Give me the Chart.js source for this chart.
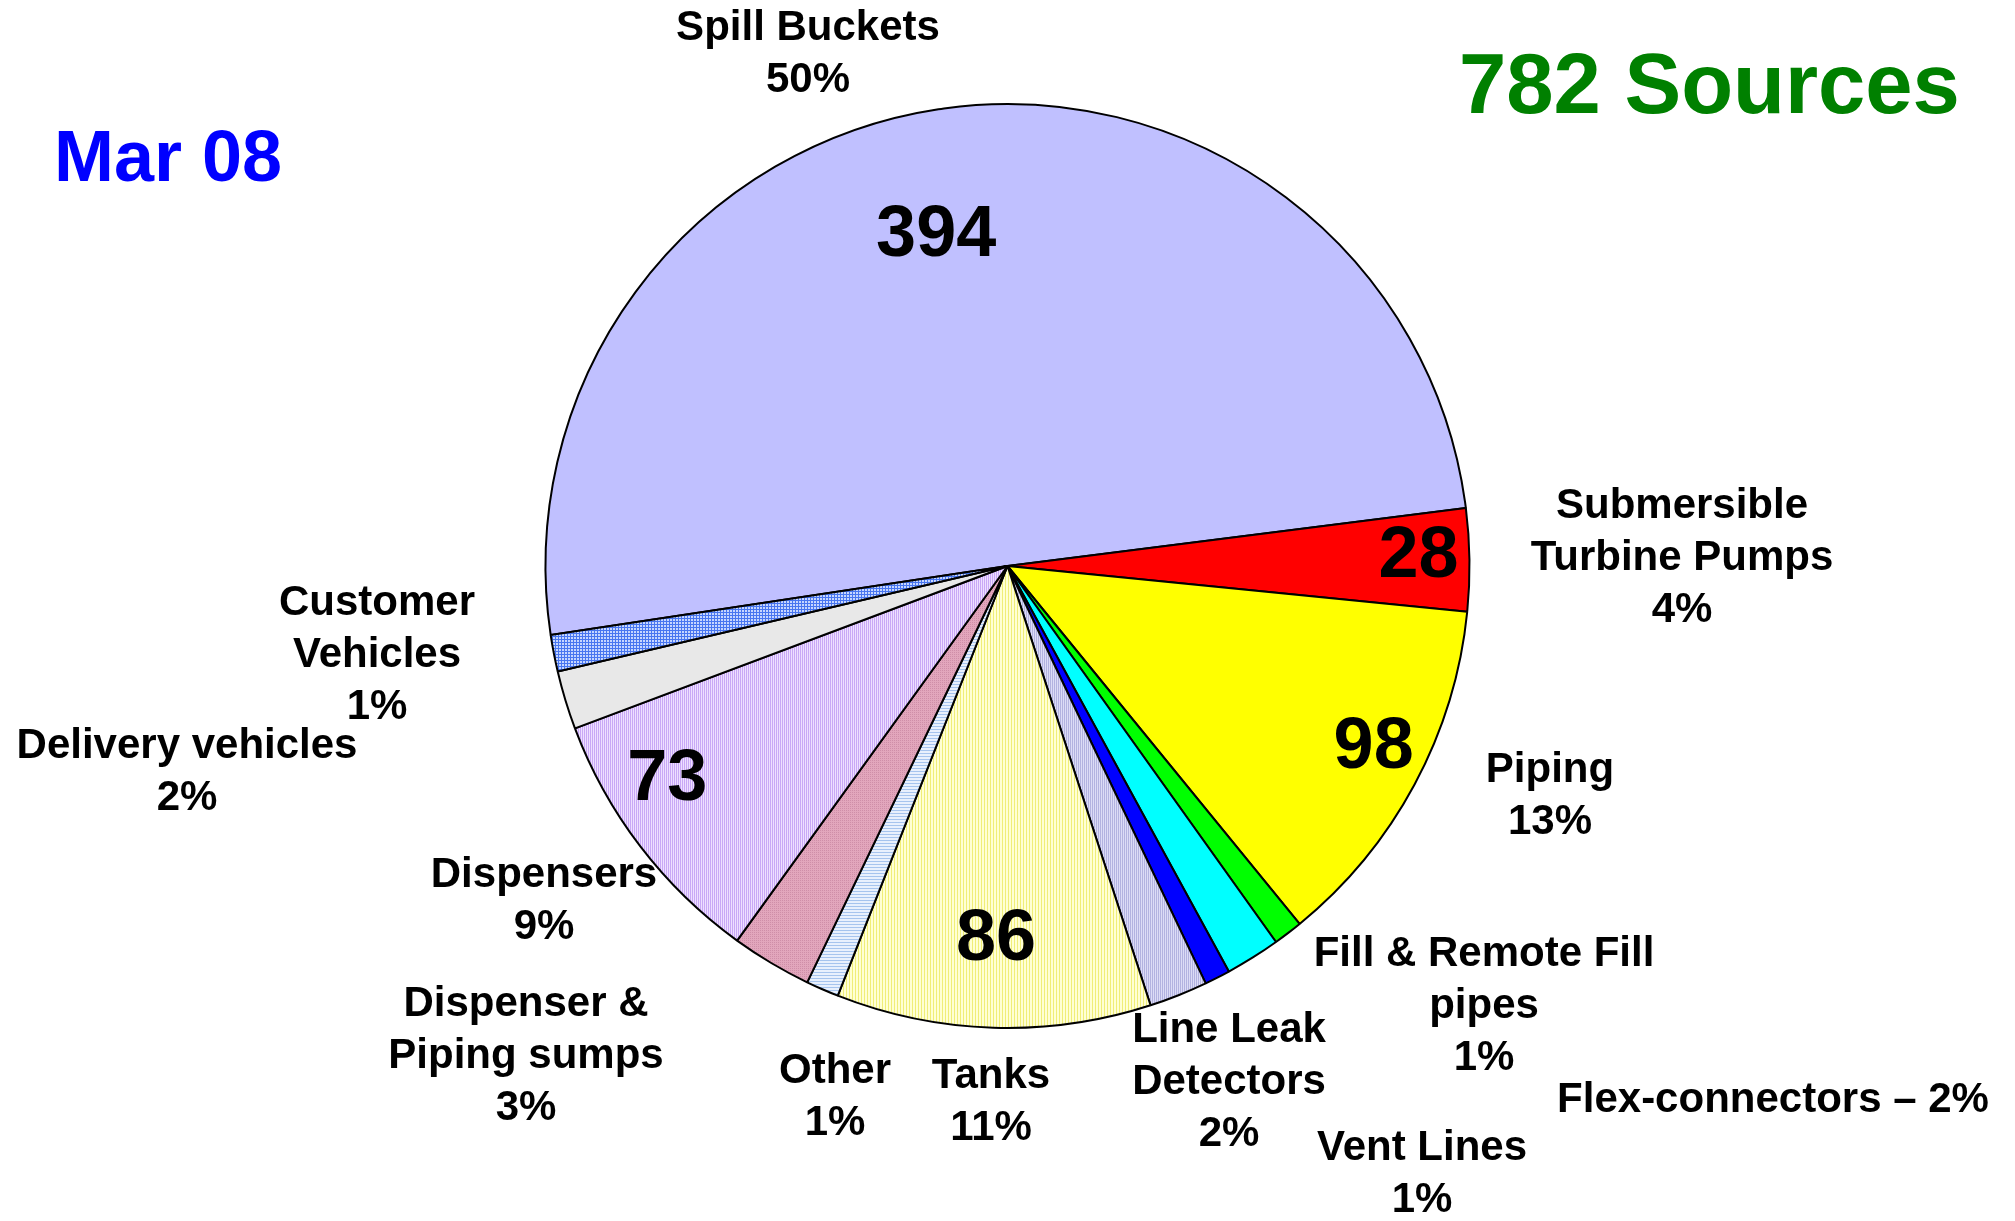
<!DOCTYPE html>
<html>
<head>
<meta charset="utf-8">
<script src="https://cdn.jsdelivr.net/npm/chart.js@4/dist/chart.umd.min.js"></script>
<style>
html,body{margin:0;padding:0;background:#ffffff;}
#wrap{width:2015px;height:1221px;position:relative;overflow:hidden;}
</style>
</head>
<body>
<div id="wrap"><canvas id="c" width="2015" height="1221"></canvas></div>
<script>
// ---------------- DATA ----------------
const categories = [
  "Spill Buckets", "Submersible Turbine Pumps", "Piping", "Fill & Remote Fill pipes",
  "Flex-connectors", "Vent Lines", "Line Leak Detectors", "Tanks", "Other",
  "Dispenser & Piping sumps", "Dispensers", "Delivery vehicles", "Customer Vehicles"
];
const counts = [394, 28, 98, 8, 15, 7, 16, 86, 9, 22, 73, 16, 10];
const labelLines = [
  ["Spill Buckets"], ["Submersible", "Turbine Pumps"], ["Piping"], ["Fill & Remote Fill", "pipes"],
  ["Flex-connectors"], ["Vent Lines"], ["Line Leak", "Detectors"], ["Tanks"], ["Other"],
  ["Dispenser &", "Piping sumps"], ["Dispensers"], ["Delivery vehicles"], ["Customer", "Vehicles"]
];
const inlinePercent = [false, false, false, false, true, false, false, false, false, false, false, false, false];
const periodLabel = "Mar 08";
const sourcesWord = "Sources";

// ---------------- LAYOUT / STYLE ----------------
// label anchor: centre x and first baseline y (canvas px)
const labelAnchors = [
  [808, 40], [1682, 518], [1550, 782], [1484, 966], [1773, 1112], [1422, 1160],
  [1229, 1042], [991, 1088], [835, 1083], [526, 1016], [544, 887], [187, 758], [377, 615]
];
// value-in-slice placement: radial fraction and angular nudge (deg)
const valuePlacement = {0: [0.73, -4.3], 1: [0.89, -0.5], 2: [0.885, -1.8], 7: [0.81, 0], 10: [0.87, 5.2]};
const FONT = '"Liberation Sans", Arial, Helvetica, sans-serif';

const ctx = document.getElementById('c').getContext('2d');
function tile(w, h, base, ink, kind) {
  const t = document.createElement('canvas');
  t.width = w; t.height = h;
  const g = t.getContext('2d');
  g.fillStyle = base; g.fillRect(0, 0, w, h);
  g.fillStyle = ink;
  if (kind === 'v') g.fillRect(0, 0, 1, h);
  else if (kind === 'h') g.fillRect(0, 0, w, 1);
  else if (kind === 'grid') { g.fillRect(0, 0, 1, h); g.fillRect(0, 0, w, 1); }
  else if (kind === 'dot') g.fillRect(0, 0, 1, 1);
  return ctx.createPattern(t, 'repeat');
}
const fills = [
  '#C0C0FF',
  '#FF0000',
  '#FFFF00',
  '#00FF00',
  '#00FFFF',
  '#0000FF',
  tile(2, 2, '#dcdcf6', '#b2b2e0', 'v'),
  tile(3, 3, '#ffffd4', '#f0ee78', 'v'),
  tile(3, 3, '#e8f0fd', '#a6c4ee', 'h'),
  tile(2, 2, '#e2a6bc', '#cf8ea8', 'dot'),
  tile(2, 2, '#eedfff', '#c8a8f6', 'v'),
  '#E8E8E8',
  tile(3, 3, '#c6d6ff', '#4876f0', 'grid')
];

const total = counts.reduce((a, b) => a + b, 0);
const pct = v => Math.round(v / total * 100) + '%';

const labelPlugin = {
  id: 'labels',
  afterDatasetsDraw(chart) {
    const c = chart.ctx;
    const arcs = chart.getDatasetMeta(0).data;
    c.save();
    c.fillStyle = '#000';
    // values inside large slices
    c.font = 'bold 72px ' + FONT;
    c.textAlign = 'center';
    c.textBaseline = 'middle';
    Object.keys(valuePlacement).forEach(k => {
      const i = +k;
      const a = arcs[i];
      const p = a.getProps(['x', 'y', 'startAngle', 'endAngle', 'outerRadius'], true);
      const [frac, nudge] = valuePlacement[k];
      const mid = (p.startAngle + p.endAngle) / 2 + nudge * Math.PI / 180;
      const r = p.outerRadius * frac;
      c.fillText(String(counts[i]), p.x + Math.cos(mid) * r, p.y + Math.sin(mid) * r);
    });
    // category labels
    c.font = 'bold 42px ' + FONT;
    c.textBaseline = 'alphabetic';
    const lh = 52;
    labelLines.forEach((lines, i) => {
      const [x, y] = labelAnchors[i];
      let all = lines.slice();
      if (inlinePercent[i]) all[all.length - 1] = all[all.length - 1] + ' \u2013 ' + pct(counts[i]);
      else all.push(pct(counts[i]));
      all.forEach((t, j) => c.fillText(t, x, y + j * lh));
    });
    // headings
    c.textAlign = 'left';
    c.font = 'bold 72px ' + FONT;
    c.fillStyle = '#0000FF';
    c.fillText(periodLabel, 54, 181);
    c.font = 'bold 85px ' + FONT;
    c.fillStyle = '#008000';
    c.fillText(total + ' ' + sourcesWord, 1459, 113);
    c.restore();
  }
};

new Chart(ctx, {
  type: 'pie',
  data: {
    labels: categories,
    datasets: [{
      data: counts,
      backgroundColor: fills,
      borderColor: '#000000',
      borderWidth: 2,
      radius: 462
    }]
  },
  options: {
    responsive: false,
    devicePixelRatio: 1,
    animation: false,
    rotation: 261.4,
    layout: { padding: { left: 0, right: 0, top: 0, bottom: 89 } },
    plugins: { legend: { display: false }, tooltip: { enabled: false }, title: { display: false } },
    events: []
  },
  plugins: [labelPlugin]
});
</script>
</body>
</html>
